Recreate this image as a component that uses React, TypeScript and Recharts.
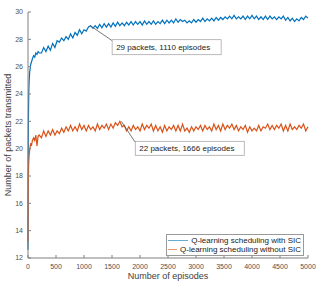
import { LineChart, Line, XAxis, YAxis, Legend, ReferenceDot } from "recharts";

// 横軸: 序盤は細かく、その後は40エピソードごと
const earlyEpisodes = [0, 3, 6, 10, 15, 20, 30, 40, 50, 60, 80, 100, 120, 140, 160, 180, 200];
const laterEpisodes = Array.from({ length: 120 }, (_, i) => 240 + i * 40);
const episodes = [...earlyEpisodes, ...laterEpisodes];

// Q-learning scheduling with SIC
const withSic = [
  12.6, 18.5, 21.2, 23.0, 24.3, 24.9, 25.6, 25.9, 26.2, 26.3, 26.6, 26.8, 26.7, 27.0, 26.9, 27.1, 27.0,
  27.0, 27.4, 27.1, 27.5, 27.2, 27.7, 27.4, 27.9, 27.8, 28.1,
  27.9, 28.2, 28.0, 28.4, 28.1, 28.5, 28.3, 28.7, 28.4, 28.7,
  28.6, 28.9, 29.0, 28.8, 29.0, 28.8, 29.1, 28.85, 29.15, 28.9,
  29.15, 28.9, 29.2, 28.95, 29.25, 29.0, 29.2, 29.0, 29.25, 29.05,
  29.3, 29.05, 29.3, 29.1, 29.3, 29.05, 29.35, 29.1, 29.3, 29.1,
  29.35, 29.1, 29.3, 29.15, 29.4, 29.15, 29.4, 29.2, 29.4, 29.2,
  29.5, 29.25, 29.45, 29.3, 29.4, 29.2, 29.35, 29.2, 29.45, 29.25,
  29.45, 29.3, 29.55, 29.3, 29.5, 29.35, 29.55, 29.35, 29.6, 29.4,
  29.6, 29.45, 29.65, 29.5, 29.7, 29.5, 29.75, 29.5, 29.65, 29.5,
  29.7, 29.45, 29.7, 29.5, 29.75, 29.5, 29.7, 29.45, 29.65, 29.45,
  29.7, 29.45, 29.7, 29.5, 29.65, 29.45, 29.65, 29.5, 29.7, 29.4,
  29.6, 29.35, 29.55, 29.3, 29.5, 29.35, 29.6, 29.45, 29.7, 29.55,
];

// Q-learning scheduling without SIC
const withoutSic = [
  13.2, 16.2, 17.6, 18.6, 19.2, 19.5, 19.9, 20.2, 20.4, 20.2, 20.6, 20.8, 20.6, 21.0, 20.2, 20.9, 21.0,
  20.8, 21.3, 20.9, 21.3, 21.0, 21.4, 21.0, 21.3, 21.1, 21.5,
  21.2, 21.6, 21.3, 21.7, 21.3, 21.6, 21.3, 21.8, 21.4, 21.7,
  21.3, 21.7, 21.4, 21.6, 21.3, 21.8, 21.4, 21.7, 21.5, 21.8,
  21.4, 21.8, 21.5, 21.9, 21.7, 22.0, 21.6, 21.7, 21.3, 21.6,
  21.3, 21.7, 21.4, 21.6, 21.3, 21.8, 21.4, 21.7, 21.5, 21.8,
  21.3, 21.7, 21.3, 21.6, 21.2, 21.7, 21.3, 21.6, 21.4, 21.7,
  21.3, 21.7, 21.3, 21.8, 21.3, 21.5, 21.2, 21.6, 21.3, 21.6,
  21.4, 21.7, 21.3, 21.7, 21.4, 21.6, 21.3, 21.8, 21.4, 21.7,
  21.3, 21.8, 21.4, 21.7, 21.5, 21.8, 21.4, 21.7, 21.3, 21.6,
  21.4, 21.7, 21.2, 21.6, 21.3, 21.5, 21.3, 21.7, 21.3, 21.6,
  21.5, 21.8, 21.4, 21.7, 21.4, 21.7, 21.5, 21.8, 21.3, 21.7,
  21.3, 21.8, 21.4, 21.6, 21.4, 21.7, 21.5, 21.8, 21.3, 21.6,
];

const xTicks = [0, 500, 1000, 1500, 2000, 2500, 3000, 3500, 4000, 4500, 5000];
const yTicks = [12, 14, 16, 18, 20, 22, 24, 26, 28, 30];

// 注釈の点
const peakSic = { episode: 1110, packets: 29 };
const peakNoSic = { episode: 1666, packets: 22 };

const BLUE = "#0072BD";
const ORANGE = "#D95319";
const FONT = "'Liberation Sans', Arial, sans-serif";

const data = episodes.map((ep, i) => ({ ep, sic: withSic[i], noSic: withoutSic[i] }));

const series = [
  { key: "sic", name: "Q-learning scheduling with SIC", color: BLUE },
  { key: "noSic", name: "Q-learning scheduling without SIC", color: ORANGE },
];

function Callout({ cx, cy, dx, dy, w, h, text }: any) {
  const bx = cx + dx;
  const by = cy + dy;
  return (
    <g>
      <line x1={cx} y1={cy} x2={bx} y2={by + 1} stroke="#555" strokeWidth={0.8} />
      <rect x={bx} y={by} width={w} height={h} fill="#fff" stroke="#aaa" strokeWidth={0.8} />
      <text x={bx + 4} y={by + h / 2 + 3} fontSize={8} fill="#222" fontFamily={FONT}>
        {text}
      </text>
    </g>
  );
}

function LegendBox() {
  return (
    <div
      style={{
        border: "1px solid #999",
        background: "#fff",
        padding: "1px 2px 1px 1px",
        fontFamily: FONT,
        fontSize: 8,
        lineHeight: "9px",
        color: "#222",
        boxSizing: "border-box",
        width: 138,
      }}
    >
      {series.map((s) => (
        <div key={s.key} style={{ display: "flex", alignItems: "center", whiteSpace: "nowrap" }}>
          <span style={{ width: 23, height: 0, borderTop: `1px solid ${s.color}`, marginRight: 3, opacity: 0.6 }} />
          {s.name}
        </div>
      ))}
    </div>
  );
}

export default function App() {
  const tickStyle = { fontSize: 7, fill: "#505050", fontFamily: FONT };
  return (
    <div style={{ position: "absolute", left: 0, top: 0, background: "#fff" }}>
      <LineChart width={318} height={282} data={data} margin={{ top: 12, right: 10, left: 0, bottom: 0 }}>
        <XAxis
          dataKey="ep"
          type="number"
          domain={[0, 5000]}
          ticks={xTicks}
          height={24}
          tickSize={-3}
          tickMargin={9}
          stroke="#808080"
          tick={tickStyle}
          label={{ value: "Number of episodes", position: "insideBottom", offset: 3, fontSize: 9, fill: "#404040", fontFamily: FONT }}
        />
        <XAxis xAxisId="top" orientation="top" type="number" domain={[0, 5000]} ticks={xTicks} height={0} tickSize={-3} tick={false} stroke="#808080" />
        <YAxis
          type="number"
          domain={[12, 30]}
          ticks={yTicks}
          width={28}
          tickSize={-3}
          tickMargin={8}
          stroke="#808080"
          tick={tickStyle}
          label={{
            value: "Number of packets transmitted",
            angle: -90,
            position: "insideLeft",
            offset: 8,
            fontSize: 9,
            fill: "#404040",
            fontFamily: FONT,
            style: { textAnchor: "middle" },
          }}
        />
        <YAxis yAxisId="right" orientation="right" type="number" domain={[12, 30]} ticks={yTicks} width={0} tickSize={-3} tick={false} stroke="#808080" />
        {series.map((s) => (
          <Line
            key={s.key}
            type="linear"
            dataKey={s.key}
            name={s.name}
            stroke={s.color}
            strokeWidth={1.2}
            dot={false}
            isAnimationActive={false}
          />
        ))}
        <ReferenceDot
          x={peakSic.episode}
          y={peakSic.packets}
          r={1}
          shape={(p: any) => (
            <Callout cx={p.cx} cy={p.cy} dx={22} dy={14} w={109} h={15} text={`${peakSic.packets} packets, ${peakSic.episode} episodes`} />
          )}
        />
        <ReferenceDot
          x={peakNoSic.episode}
          y={peakNoSic.packets}
          r={1}
          shape={(p: any) => (
            <Callout cx={p.cx} cy={p.cy} dx={14} dy={20} w={109} h={14} text={`${peakNoSic.packets} packets, ${peakNoSic.episode} episodes`} />
          )}
        />
        <Legend
          layout="horizontal"
          verticalAlign="middle"
          align="center"
          wrapperStyle={{ left: 166, top: 234, width: 138 }}
          content={LegendBox}
        />
      </LineChart>
    </div>
  );
}
